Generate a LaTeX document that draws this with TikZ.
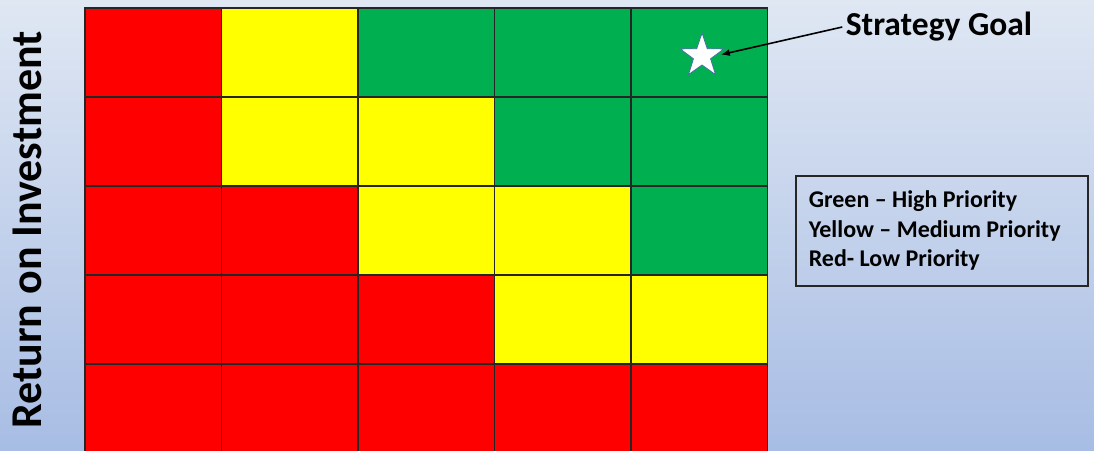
\documentclass[tikz,border=0pt]{standalone}
\usepackage{fontspec}
\setmainfont{Carlito}
\usetikzlibrary{shapes.geometric,arrows.meta}

\definecolor{prioRed}{HTML}{FF0000}
\definecolor{prioYellow}{HTML}{FFFF00}
\definecolor{prioGreen}{HTML}{00B050}
\definecolor{bgTop}{HTML}{DFE7F3}
\definecolor{bgBottom}{HTML}{A8BDE4}
\definecolor{starEdge}{HTML}{41719C}

\begin{document}
\begin{tikzpicture}[
                x=1pt, y=-1pt,
                cell/.style={rectangle,draw=black!85,line width=1.6pt,inner sep=0pt,
                             minimum width=136.5pt,minimum height=89pt},
                goalstar/.style={star,star points=5,star point ratio=2.55,draw=starEdge,
                                 fill=white,line width=0.8pt,minimum size=46pt,inner sep=0pt},
                legendbox/.style={draw=black!85,line width=1.6pt,align=flush left,anchor=north west,
                                  minimum width=292pt,minimum height=110pt,text width=266pt,
                                  inner xsep=13pt,font=\fontsize{24}{29.5}\selectfont\bfseries},
                pointer/.style={-{Latex[length=9pt,width=7pt]},line width=1.6pt}
            ]

            \useasboundingbox (0,0) rectangle (1094,450);
            \fill[top color=bgTop,bottom color=bgBottom] (0,0) rectangle (1094,450);

            % priority grid, rows from the top
            \foreach \r/\list in {1/{prioRed,prioYellow,prioGreen,prioGreen,prioGreen},
                                  2/{prioRed,prioYellow,prioYellow,prioGreen,prioGreen},
                                  3/{prioRed,prioRed,prioYellow,prioYellow,prioGreen},
                                  4/{prioRed,prioRed,prioRed,prioYellow,prioYellow},
                                  5/{prioRed,prioRed,prioRed,prioRed,prioRed}}
                {\foreach \c [count=\k] in \list
                    {\node[cell,fill=\c] (c\r\k) at ({85+(\k-0.5)*136.5},{8+(\r-0.5)*89}) {};}}

            \node[goalstar] (star) at (702,56) {};

            \node[font=\fontsize{33.5}{40}\selectfont\bfseries] (goal) at (939,27) {Strategy Goal};
            \draw[pointer,shorten >=6pt] (goal.west) -- (star.east);

            \node[legendbox] (legend) at (795,175) {Green – High Priority\\Yellow – Medium Priority\\Red- Low Priority};

            \node[rotate=90,font=\fontsize{44}{52}\selectfont\bfseries] (roi) at (27,230) {Return on Investment};

        \end{tikzpicture}
\end{document}
